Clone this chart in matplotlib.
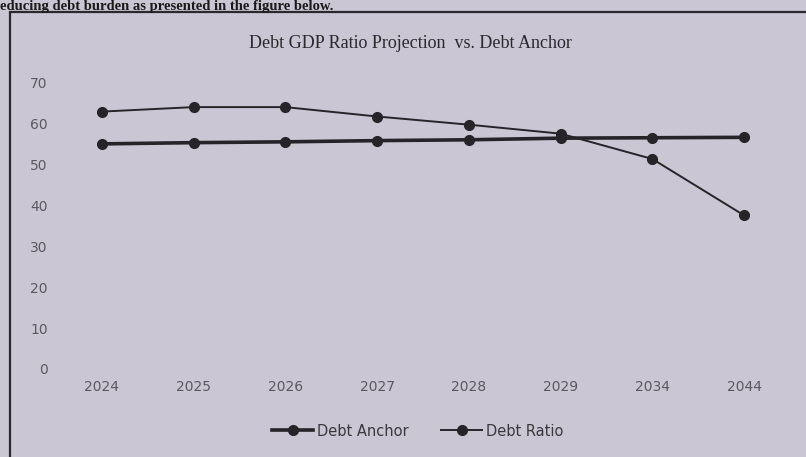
import matplotlib
matplotlib.use("Agg")
import matplotlib.pyplot as plt
from matplotlib.patches import Rectangle

years = ["2024", "2025", "2026", "2027", "2028", "2029", "2034", "2044"]
debt_anchor = [55.1, 55.4, 55.6, 55.9, 56.1, 56.5, 56.6, 56.7]
debt_ratio = [63.0, 64.1, 64.1, 61.8, 59.8, 57.6, 51.4, 37.6]
y_ticks = [0, 10, 20, 30, 40, 50, 60, 70]

W, H = 806, 457
bg = "#cac6d4"
line_col = "#262428"
text_col = "#5a5860"

fig = plt.figure(figsize=(W / 100, H / 100), dpi=100)
fig.patch.set_facecolor(bg)

# surrounding frame of the printed figure
fig.patches.append(Rectangle((10 / W, -0.1), 1.2, 1.1 - 12 / H, transform=fig.transFigure,
                             fill=False, edgecolor="#2a282c", linewidth=1.6))

# text line of the page above the figure
fig.text(0.0, 1.0, "educing debt burden as presented in the figure below.",
         fontsize=10.5, fontweight="bold", family="Liberation Serif", color="#1a1a1a",
         ha="left", va="top")

ax = fig.add_axes([56 / W, 1 - 369 / H, (790 - 56) / W, (369 - 83) / H])
ax.set_facecolor("none")
x = list(range(len(years)))
ax.plot(x, debt_anchor, color=line_col, linewidth=2.6, marker="o", markersize=7,
        label="Debt Anchor", zorder=3)
ax.plot(x, debt_ratio, color=line_col, linewidth=1.4, marker="o", markersize=7,
        label="Debt Ratio", zorder=3)

ax.set_xlim(-0.5, len(years) - 0.5)
ax.set_ylim(0, 70)
ax.set_xticks(x)
ax.set_xticklabels(years)
ax.set_yticks(y_ticks)
for s in ax.spines.values():
    s.set_visible(False)
ax.tick_params(axis="both", length=0, colors=text_col, labelsize=10)
ax.tick_params(axis="x", pad=8)
ax.tick_params(axis="y", pad=6)

fig.text(410 / W, 1 - 43 / H, "Debt GDP Ratio Projection  vs. Debt Anchor",
         family="Liberation Serif", fontsize=13, color="#2a282c", ha="center", va="center")

leg = fig.legend(loc="center", bbox_to_anchor=(418 / W, 1 - 431 / H), ncol=2, frameon=False,
                 fontsize=10.5, handlelength=2.8, columnspacing=2.2, handletextpad=0.3)
for t in leg.get_texts():
    t.set_color("#3a383c")

fig.savefig("out.png", dpi=100, facecolor=bg)
